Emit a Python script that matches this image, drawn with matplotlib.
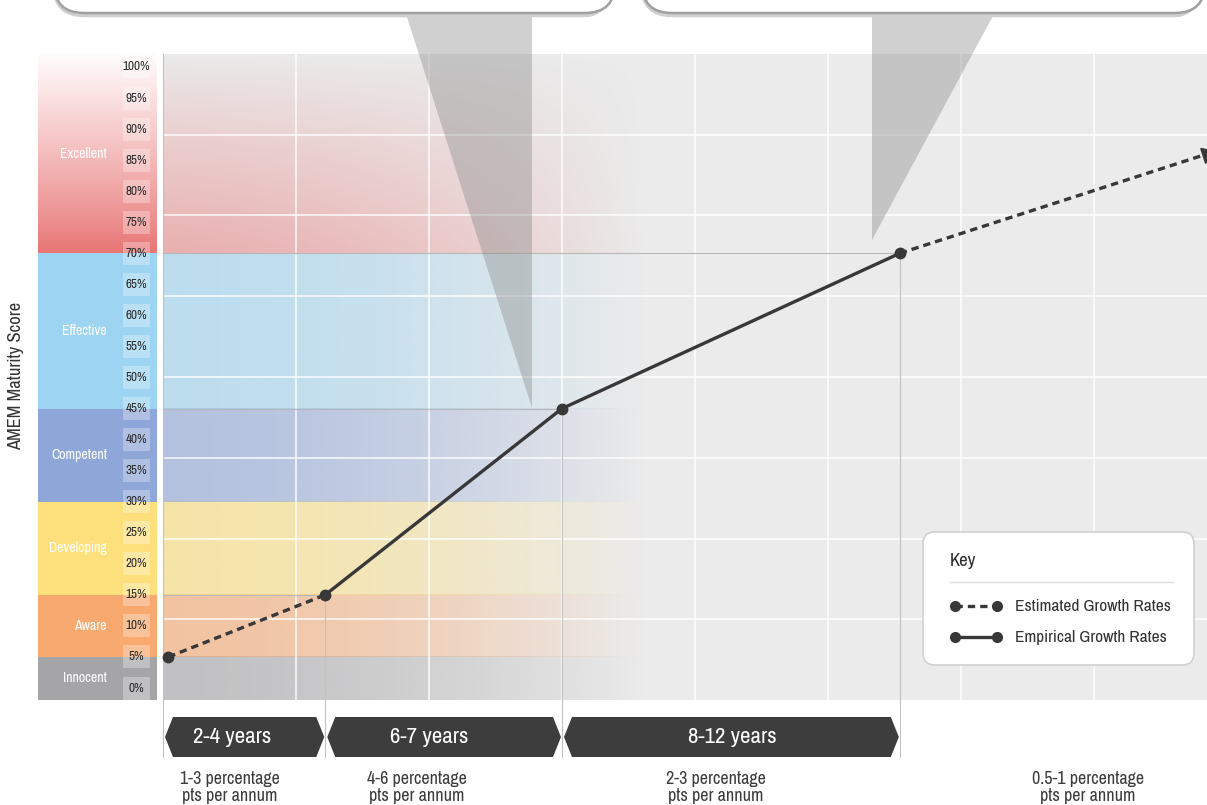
import math
import numpy as np
import matplotlib.pyplot as plt
from matplotlib.colors import to_rgb
from matplotlib.patches import Rectangle, Polygon, FancyBboxPatch

plt.rcParams['font.family'] = ['Archivo Narrow', 'DejaVu Sans']

# maturity bands: name, floor score (%), colour
band_names = ['Innocent', 'Aware', 'Developing', 'Competent', 'Effective', 'Excellent']
band_floor = [0, 5, 15, 30, 45, 70]
band_colors = ['#a5a5a8', '#f7a970', '#fde07c', '#8ea6d8', '#9dd4f1', '#e87474']
score_ticks = list(range(0, 101, 5))

# growth path: x in chart columns, y = maturity score (%)
path_x = [0.04, 1.22, 3.0, 5.54, 7.85]
path_y = [5, 15, 45, 70, 86]
path_kind = ['estimated', 'empirical', 'empirical', 'estimated']

period_labels = ['2-4 years', '6-7 years', '8-12 years']
rate_labels = ['1-3 percentage\npts per annum', '4-6 percentage\npts per annum',
               '2-3 percentage\npts per annum', '0.5-1 percentage\npts per annum']

LINE = '#383838'

# page layout in pixels, converted to chart units
W, H = 1207, 805
X0, COL = 163, 133      # left edge of the grid, column width
Y0, PCT = 688, 6.21     # 0% line, pixels per percentage point


def gx(p):
    return (p - X0) / COL


def gy(p):
    return (Y0 - p) / PCT


fig = plt.figure(figsize=(W / 100, H / 100), dpi=100)
ax = fig.add_axes([0, 0, 1, 1])
ax.axis('off')

x_right = gx(W)
y_bot, y_top = gy(700), gy(54)

# grey plot background
ax.add_patch(Rectangle((0, y_bot), x_right, y_top - y_bot, fc='#ebebeb', ec='none', zorder=0))

band_lo = [y_bot] + band_floor[1:]
band_hi = band_floor[1:] + [y_top]

# coloured score column on the left
bx0, bx1 = gx(38), gx(157)
for name, lo, hi, col in zip(band_names, band_lo, band_hi, band_colors):
    if name == 'Excellent':
        v = np.linspace(0, 1, 200)[:, None] ** 0.9
        img = (1 - v) * np.array(to_rgb(col)) + v * np.array([1.0, 0.99, 0.99])
        ax.imshow(img[:, None, :], extent=(bx0, bx1, lo, hi), origin='lower',
                  aspect='auto', zorder=0.5, interpolation='bilinear')
    else:
        ax.add_patch(Rectangle((bx0, lo), bx1 - bx0, hi - lo, fc=col, ec='none', zorder=0.5))
    ax.text(gx(107), (lo + hi) / 2, name, ha='right', va='center', color='white',
            fontsize=10, zorder=3)
ax.add_patch(Rectangle((bx1, y_bot), gx(163) - bx1, y_top - y_bot, fc='white',
                       alpha=0.45, ec='none', zorder=0.6))

# bands fading into the plot area
fade_x = np.linspace(0, 1, 300)
fade = np.clip(1 - fade_x ** 1.6, 0, 1)
for name, lo, hi, col in zip(band_names, band_lo, band_hi, band_colors):
    rgba = np.zeros((100, 300, 4))
    rgba[..., :3] = to_rgb(col)
    if name == 'Excellent':
        v = np.linspace(1, 0, 100)[:, None]
        rgba[..., 3] = 0.5 * fade[None, :] * v ** 0.9
    else:
        rgba[..., 3] = 0.6 * fade[None, :]
    ax.imshow(rgba, extent=(0, gx(645), lo, hi), origin='lower', aspect='auto',
              zorder=1, interpolation='bilinear')

# white grid
for k in range(1, int(x_right) + 1):
    ax.plot([k, k], [y_bot, y_top], color='white', lw=1.2, alpha=0.85, zorder=2)
for yy in np.linspace(y_bot, y_top, 9)[1:-1]:
    ax.plot([0, x_right], [yy, yy], color='white', lw=1.2, alpha=0.85, zorder=2)

# thin guides from each milestone
y_guide = gy(757)
ax.plot([0, 0], [y_top, y_guide], color='#c2c2c2', lw=0.8, zorder=2.5)
for px, py in zip(path_x[1:4], path_y[1:4]):
    ax.plot([0, px], [py, py], color='#b8b8b8', lw=0.8, zorder=2.5)
    ax.plot([px, px], [py, y_guide], color='#c2c2c2', lw=0.8, zorder=2.5)

# score labels in little boxes
box_h = 23 / PCT
for t in score_ticks:
    ax.add_patch(Rectangle((gx(123), t - box_h / 2), gx(150) - gx(123), box_h,
                           fc='white', alpha=0.3, ec='none', zorder=2.8))
    ax.text(gx(136.5), t, f'{t}%', ha='center', va='center', fontsize=9.5,
            color='#2a2a2a', zorder=3)

ax.text(gx(16), gy(376), 'AMEM Maturity Score', rotation=90, ha='center', va='center',
        fontsize=13.3, color='#333333')

# period chevrons
edges = [0] + path_x[1:4]
tip = 8 / COL
yt, yb = gy(717), gy(757)
ym = (yt + yb) / 2
for i in range(3):
    a = edges[i] + 2 / COL
    b = edges[i + 1] - 1 / COL
    ax.add_patch(Polygon([(a, ym), (a + tip, yt), (b - tip, yt), (b, ym), (b - tip, yb),
                          (a + tip, yb)], closed=True, fc='#3d3d3d', ec='none', zorder=4))
for lab, px in zip(period_labels, [232, 429, 732]):
    ax.text(gx(px), ym, lab, ha='center', va='center', color='white', fontsize=16.5, zorder=4.5)
for lab, px in zip(rate_labels, [230, 417, 716, 1088]):
    ax.text(gx(px), gy(771), lab, ha='center', va='top', color='#3c3c3c', fontsize=13,
            linespacing=1.05)

# growth path
for i, kind in enumerate(path_kind):
    ls = (0, (2.2, 1.5)) if kind == 'estimated' else '-'
    ax.plot(path_x[i:i + 2], path_y[i:i + 2], color=LINE, lw=2.4, ls=ls,
            solid_capstyle='round', zorder=5)
ax.plot(path_x[:-1], path_y[:-1], 'o', ms=7.5, color=LINE, zorder=6)

ax.set_xlim(gx(0), gx(W))
ax.set_ylim(gy(H), gy(0))

p3 = ax.transData.transform((path_x[-2], path_y[-2]))
p4 = ax.transData.transform((path_x[-1], path_y[-1]))
ang = math.degrees(math.atan2(p4[1] - p3[1], p4[0] - p3[0]))
ax.plot(path_x[-1], path_y[-1], marker=(3, 0, ang - 90), ms=13, color=LINE, zorder=6)

# callouts and key, laid out in pixels
deco = fig.add_axes([0, 0, 1, 1], zorder=5)
deco.set_xlim(0, W)
deco.set_ylim(H, 0)
deco.axis('off')
deco.patch.set_alpha(0)

deco.add_patch(Polygon([(406, 14), (532, 14), (532, 408)], fc='#8a8a8a', alpha=0.4,
                       ec='none', zorder=1))
deco.add_patch(Polygon([(872, 14), (994, 14), (872, 240)], fc='#8a8a8a', alpha=0.4,
                       ec='none', zorder=1))
for bx_0, bx_1 in [(54, 615), (642, 1205)]:
    deco.add_patch(FancyBboxPatch((bx_0, -80), bx_1 - bx_0, 95.5,
                                  boxstyle='round,pad=0,rounding_size=30',
                                  fc='none', ec='#cfcfcf', lw=2.5, zorder=2))
    deco.add_patch(FancyBboxPatch((bx_0, -80), bx_1 - bx_0, 93,
                                  boxstyle='round,pad=0,rounding_size=30',
                                  fc='white', ec='#a0a0a0', lw=1.8, zorder=3))

deco.add_patch(FancyBboxPatch((923, 532), 271, 133, boxstyle='round,pad=0,rounding_size=12',
                              fc='white', ec='#d0d0d0', lw=1.2, zorder=4))
deco.text(950, 561, 'Key', ha='left', va='center', fontsize=13.5, color='#2b2b2b', zorder=5)
deco.plot([950, 1173], [582, 582], color='#dcdcdc', lw=1, zorder=5)
deco.plot([955, 997], [606, 606], color=LINE, lw=2.4, ls=(0, (2.2, 1.5)), zorder=5)
deco.plot([955, 997], [637, 637], color=LINE, lw=2.4, zorder=5)
deco.plot([955, 997, 955, 997], [606, 606, 637, 637], 'o', ms=7, color=LINE, zorder=6)
deco.text(1015, 606, 'Estimated Growth Rates', ha='left', va='center', fontsize=12.5,
          color='#333333', zorder=5)
deco.text(1015, 637, 'Empirical Growth Rates', ha='left', va='center', fontsize=12.5,
          color='#333333', zorder=5)

fig.savefig('out.png', dpi=100)
